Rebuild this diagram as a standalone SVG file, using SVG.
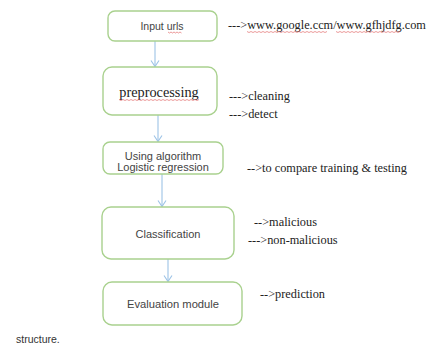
<svg xmlns="http://www.w3.org/2000/svg" width="429" height="346" viewBox="0 0 429 346">
<style>
.box{fill:#ffffff;stroke:#a9d18e;stroke-width:1.4}
.bt{font-family:"Liberation Sans",Arial,sans-serif;font-size:10.5px;fill:#444;text-anchor:middle}
.serif{font-family:"Liberation Serif","Times New Roman",serif;font-size:12.3px;fill:#222}
.conn{stroke:#9dc3e6;stroke-width:1.1;fill:none}
.spell{stroke:#e06060;stroke-width:0.8;fill:none;opacity:0.8}
</style>
<defs>
<marker id="arr" markerWidth="10" markerHeight="10" refX="8" refY="5" orient="auto" markerUnits="userSpaceOnUse">
<path d="M2,1 L8,5 L2,9" fill="none" stroke="#9dc3e6" stroke-width="1.1"/>
</marker>
</defs>
<rect width="429" height="346" fill="#ffffff"/>
<g id="connectors">
<line class="conn" x1="155" y1="41" x2="155" y2="66.5" marker-end="url(#arr)"/>
<line class="conn" x1="158" y1="115" x2="158" y2="141.5" marker-end="url(#arr)"/>
<line class="conn" x1="162" y1="174" x2="162" y2="206.5" marker-end="url(#arr)"/>
<line class="conn" x1="168" y1="259" x2="168" y2="281.5" marker-end="url(#arr)"/>
</g>
<g id="node-input">
<rect class="box" x="108" y="11" width="109" height="30" rx="7"/>
<text class="bt" x="162" y="29.5">Input urls</text>
<path class="spell" d="M168,32 l1.5,1 l1.5,-1 l1.5,1 l1.5,-1 l1.5,1 l1.5,-1 l1.5,1 l1.5,-1 l1.5,1"/>
</g>
<g id="node-preprocessing">
<rect class="box" x="103" y="67" width="114" height="48" rx="9"/>
<text x="159" y="96.5" style="font-family:'Liberation Serif','Times New Roman',serif;font-size:14.3px;fill:#222;text-anchor:middle">preprocessing</text>
<path class="spell" d="M119,99.5 l2,1 l2,-1 l2,1 l2,-1 l2,1 l2,-1 l2,1 l2,-1 l2,1 l2,-1 l2,1 l2,-1 l2,1 l2,-1 l2,1 l2,-1 l2,1 l2,-1 l2,1 l2,-1 l2,1 l2,-1 l2,1 l2,-1 l2,1 l2,-1 l2,1 l2,-1 l2,1 l2,-1 l2,1 l2,-1 l2,1 l2,-1 l2,1 l2,-1 l2,1 l2,-1 l2,1 l2,-1"/>
</g>
<g id="node-algorithm">
<rect class="box" x="103" y="142" width="120" height="32" rx="7"/>
<text class="bt" x="163" y="160" style="font-size:11px">Using algorithm</text>
<text class="bt" x="163" y="170.5" style="font-size:11px">Logistic regression</text>
</g>
<g id="node-classification">
<rect class="box" x="102" y="207" width="132" height="52" rx="9"/>
<text class="bt" x="168" y="238" style="font-size:11px">Classification</text>
</g>
<g id="node-evaluation">
<rect class="box" x="103" y="282" width="139" height="43" rx="9"/>
<text class="bt" x="173" y="308" style="font-size:11.2px">Evaluation module</text>
</g>
<g id="annotations">
<text class="serif" x="228" y="29">---&gt;www.google.ccm/www.gfhjdfg.com</text>
<path class="spell" d="M247,31.5 l2,1 l2,-1 l2,1 l2,-1 l2,1 l2,-1 l2,1 l2,-1 l2,1 l2,-1 l2,1 l2,-1 l2,1 l2,-1 l2,1 l2,-1 l2,1 l2,-1 l2,1 l2,-1 l2,1 l2,-1 l2,1 l2,-1 l2,1 l2,-1 l2,1 l2,-1 l2,1 l2,-1 l2,1 l2,-1 l2,1 l2,-1 l2,1 l2,-1 l2,1 l2,-1 l2,1 l2,-1"/>
<path class="spell" d="M336,31.5 l2,1 l2,-1 l2,1 l2,-1 l2,1 l2,-1 l2,1 l2,-1 l2,1 l2,-1 l2,1 l2,-1 l2,1 l2,-1 l2,1 l2,-1 l2,1 l2,-1 l2,1 l2,-1 l2,1 l2,-1 l2,1 l2,-1 l2,1 l2,-1 l2,1 l2,-1 l2,1 l2,-1 l2,1 l2,-1"/>
<text class="serif" x="229" y="99.5">---&gt;cleaning</text>
<text class="serif" x="229" y="117.5">---&gt;detect</text>
<text class="serif" x="247" y="171.5">--&gt;to compare training &amp; testing</text>
<text class="serif" x="254" y="225.5">--&gt;malicious</text>
<text class="serif" x="248" y="243.5">---&gt;non-malicious</text>
<text class="serif" x="260" y="297.5">--&gt;prediction</text>
<text x="16" y="343" style="font-family:'Liberation Sans',Arial,sans-serif;font-size:10.5px;fill:#333">structure.</text>
</g>
</svg>
